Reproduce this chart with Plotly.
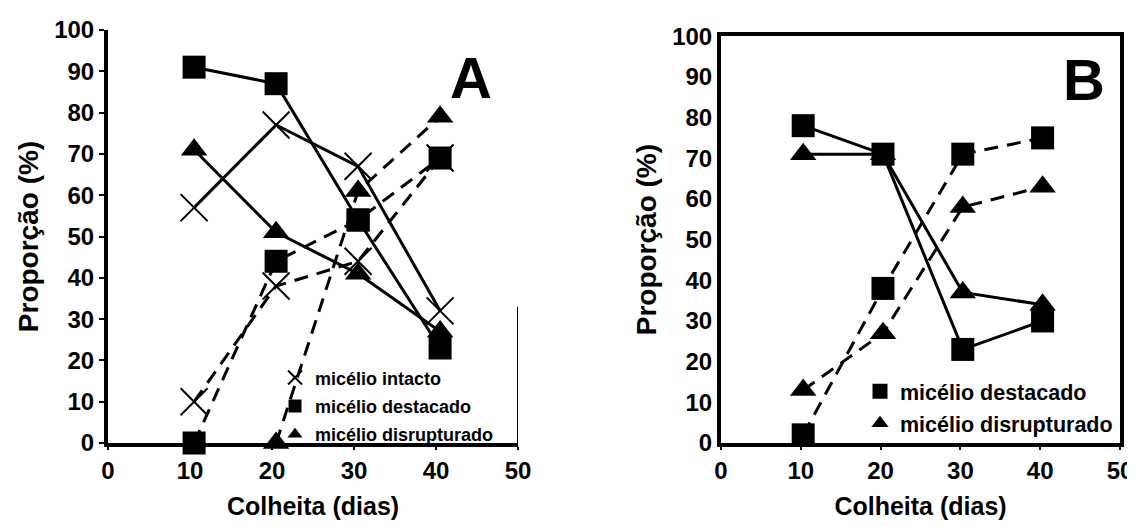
import plotly.graph_objects as go

# ---------------- data ----------------
# Panel A (harvest day positions as drawn)
A_x = [10.5, 20.5, 30.5, 40.5]
A_intacto_solid = [57, 77, 67, 32]
A_destacado_solid = [91, 87, 54, 23]
A_disrupt_solid = [71, 51, 41, 27]
A_intacto_dash = [10, 38, 44, 69]
A_destacado_dash = [0, 44, 54, 69]
A_disrupt_dash = [None, 0, 61, 79]

# Panel B
B_x = [10.3, 20.3, 30.3, 40.3]
B_destacado_solid = [78, 71, 23, 30]
B_disrupt_solid = [71, 71, 37, 34]
B_destacado_dash = [2, 38, 71, 75]
B_disrupt_dash = [13, 27, 58, 63]

x_ticks = [0, 10, 20, 30, 40, 50]
y_ticks = [0, 10, 20, 30, 40, 50, 60, 70, 80, 90, 100]
x_title = "Colheita (dias)"
y_title = "Proporção (%)"
legend_A = ["micélio intacto", "micélio destacado", "micélio disrupturado"]
legend_B = ["micélio destacado", "micélio disrupturado"]

# ---------------- styling ----------------
FONT = "Liberation Sans"
BLACK = "black"
DASH = "14px,9px"
LW = 3

sym = {"x": "x-thin-open", "sq": "square", "tri": "triangle-up"}
size = {"x": 27, "sq": 23, "tri": 23}


def marker(kind, s=None):
    m = dict(symbol=sym[kind], size=s or size[kind], color=BLACK)
    if kind == "x":
        m["line"] = dict(color=BLACK, width=2)
    return m


fig = go.Figure()


def add(xs, ys, kind, dash, xa, ya):
    fig.add_trace(go.Scatter(
        x=xs, y=ys, mode="lines+markers", xaxis=xa, yaxis=ya,
        line=dict(color=BLACK, width=LW, dash=dash),
        marker=marker(kind), showlegend=False, cliponaxis=False,
        connectgaps=False, hoverinfo="skip"))


# Panel A
add(A_x, A_intacto_dash, "x", DASH, "x", "y")
add(A_x, A_destacado_dash, "sq", DASH, "x", "y")
add(A_x, A_disrupt_dash, "tri", DASH, "x", "y")
add(A_x, A_intacto_solid, "x", "solid", "x", "y")
add(A_x, A_destacado_solid, "sq", "solid", "x", "y")
add(A_x, A_disrupt_solid, "tri", "solid", "x", "y")

# Panel B
add(B_x, B_destacado_dash, "sq", DASH, "x2", "y2")
add(B_x, B_disrupt_dash, "tri", DASH, "x2", "y2")
add(B_x, B_destacado_solid, "sq", "solid", "x2", "y2")
add(B_x, B_disrupt_solid, "tri", "solid", "x2", "y2")

# legend entries (marker only)
for name, kind in zip(legend_A, ["x", "sq", "tri"]):
    fig.add_trace(go.Scatter(x=[None], y=[None], mode="markers", name=name,
                             marker=marker(kind, 13 if kind != "x" else 14),
                             legend="legend", legendgroup="A" + name,
                             xaxis="x", yaxis="y"))
for name, kind in zip(legend_B, ["sq", "tri"]):
    fig.add_trace(go.Scatter(x=[None], y=[None], mode="markers", name=name,
                             marker=marker(kind, 15),
                             legend="legend2", legendgroup="B" + name,
                             xaxis="x2", yaxis="y2"))

tickfont = dict(family=FONT, size=24, color=BLACK, weight="bold")
xtitlefont = dict(family=FONT, size=25, color=BLACK, weight="bold")
ytitlefont = dict(family=FONT, size=28, color=BLACK, weight="bold")

W, H = 1135, 526
T, B = 22, 91


def xaxis(dom):
    return dict(domain=dom, range=[0, 50], tickvals=x_ticks, showgrid=False,
                zeroline=False, showline=True, linewidth=4, linecolor=BLACK,
                ticks="outside", ticklen=3, tickwidth=2, tickcolor=BLACK,
                tickfont=tickfont, automargin=False,
                title=dict(text=x_title, font=xtitlefont, standoff=16))


def yaxis(anchor, ticks, standoff, dom=(0, 1)):
    return dict(domain=list(dom), range=[0, 100], tickvals=y_ticks,
                anchor=anchor, showgrid=False, zeroline=False, showline=True,
                linewidth=4, linecolor=BLACK, ticks=ticks, ticklen=5,
                tickwidth=2, tickcolor=BLACK, tickfont=tickfont,
                automargin=False,
                title=dict(text=y_title, font=ytitlefont, standoff=standoff))


fig.update_layout(
    width=W, height=H, template="none",
    paper_bgcolor="white", plot_bgcolor="white",
    margin=dict(l=0, r=0, t=T, b=B),
    xaxis=xaxis([100 / W, 510 / W]),
    yaxis=yaxis("x", "outside", 8),
    xaxis2=dict(xaxis([713 / W, 1112 / W]), anchor="y2", mirror=True),
    yaxis2=dict(yaxis("x2", "", 8, (0, 0.985)), mirror=True),
    legend=dict(x=267 / W, y=0.2025, xanchor="left", yanchor="top",
                bgcolor="rgba(0,0,0,0)", borderwidth=0,
                traceorder="grouped", tracegroupgap=2, itemwidth=30,
                font=dict(family=FONT, size=18, color=BLACK, weight="bold")),
    legend2=dict(x=852 / W, y=0.175, xanchor="left", yanchor="top",
                 bgcolor="rgba(0,0,0,0)", borderwidth=0,
                 traceorder="grouped", tracegroupgap=1, itemwidth=30,
                 font=dict(family=FONT, size=21.5, color=BLACK,
                           weight="bold")),
    annotations=[
        dict(text="A", xref="paper", yref="paper", x=463 / W, y=0.884,
             xanchor="center", yanchor="middle", showarrow=False,
             font=dict(family=FONT, size=58, color=BLACK, weight="bold")),
        dict(text="B", xref="paper", yref="paper", x=1076 / W, y=0.879,
             xanchor="center", yanchor="middle", showarrow=False,
             font=dict(family=FONT, size=58, color=BLACK, weight="bold")),
    ],
    shapes=[
        dict(type="line", xref="x", yref="y", x0=50, x1=50, y0=0, y1=33,
             line=dict(color=BLACK, width=2)),
    ],
)

fig.write_html("out.html")
